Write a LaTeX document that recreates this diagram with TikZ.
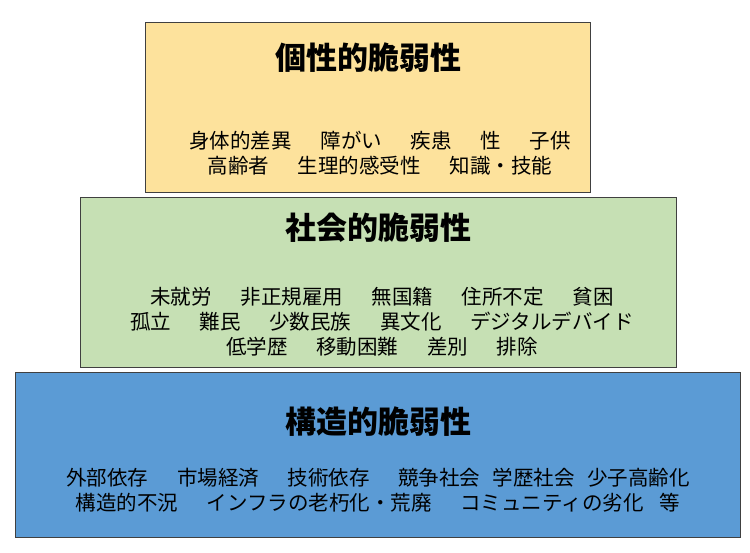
\documentclass[tikz,border=0pt]{standalone}
\usepackage{fontspec}
\setmainfont{Noto Sans CJK JP}
\definecolor{c1}{HTML}{FDE29C}
\definecolor{c2}{HTML}{C6E0B4}
\definecolor{c3}{HTML}{5B9BD5}
\newcommand\gp{\hspace{1.4em}}
\tikzset{box/.style={draw=black!75,line width=0.8pt},
 ttl/.style={font=\fontsize{31}{36}\selectfont\bfseries},
 body/.style={font=\fontsize{20.5}{25}\selectfont,align=center}}
\begin{document}
\begin{tikzpicture}[x=1pt,y=-1pt]
\useasboundingbox (0,0) rectangle (750,553);
\fill[white] (0,0) rectangle (750,553);
\draw[box,fill=c1] (145,22) rectangle (590,192);
\draw[box,fill=c2] (80,197) rectangle (676,367);
\draw[box,fill=c3] (15,372) rectangle (740,537);
\node[ttl] (t1) at (368,58) {個性的脆弱性};
\node[body] (b1) at (380,153) {身体的差異\gp 障がい\gp 疾患\gp 性\gp 子供\\高齢者\gp 生理的感受性\gp 知識・技能};
\node[ttl] (t2) at (378,228) {社会的脆弱性};
\node[body] (b2) at (382,322) {未就労\gp 非正規雇用\gp 無国籍\gp 住所不定\gp 貧困\\孤立\gp 難民\gp 少数民族\gp 異文化\gp デジタルデバイド\\低学歴\gp 移動困難\gp 差別\gp 排除};
\node[ttl] (t3) at (378,422) {構造的脆弱性};
\node[body] (b3) at (378,490) {外部依存\gp 市場経済\gp 技術依存\gp 競争社会\hspace{0.6em}学歴社会\hspace{0.6em}少子高齢化\\構造的不況\gp インフラの老朽化・荒廃\gp コミュニティの劣化\hspace{0.8em}等};
\end{tikzpicture}
\end{document}
